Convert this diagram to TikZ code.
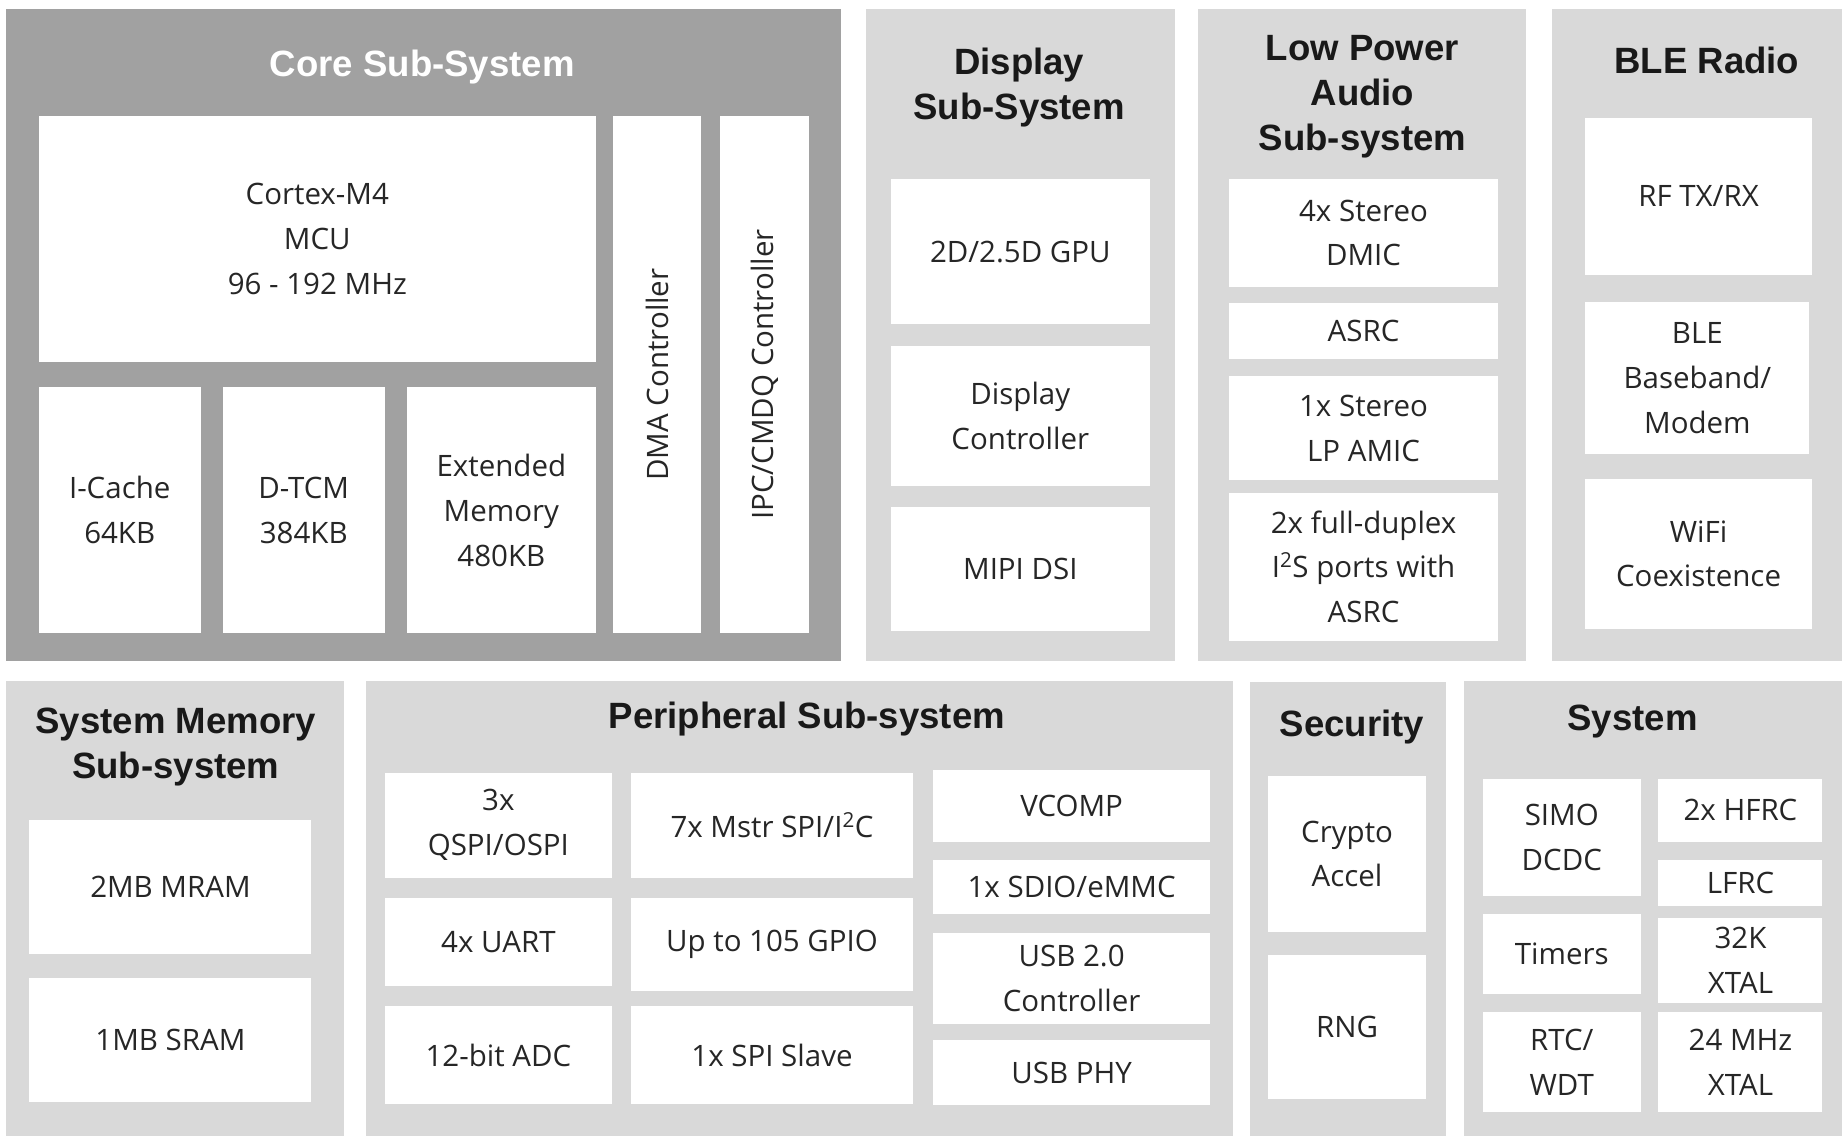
\documentclass[tikz,border=0pt]{standalone}
\usepackage{fontspec}
\setmainfont{Open Sans}
\newfontfamily\ttlfont{Liberation Sans}
\begin{document}
\begin{tikzpicture}[x=1pt,y=-1pt,
 txt/.style={align=center,font=\fontsize{25}{38}\selectfont,text=black!85},
 ttl/.style={align=center,font=\ttlfont\fontsize{31}{38}\selectfont\bfseries,text=black!90}]
\newcommand\pnl[5]{\node[fill=#5,draw=none,inner sep=0,minimum width={(#3-#1)*1pt},minimum height={(#4-#2)*1pt}] at ({(#1+#3)/2},{(#2+#4)/2}) {};}
\newcommand\bx[6]{\node[fill=white,inner sep=0,minimum width={(#3-#1)*1pt},minimum height={(#4-#2)*1pt}] (#5) at ({(#1+#3)/2},{(#2+#4)/2}) {};\node[txt] at (#5) {#6};}
\useasboundingbox (0,0) rectangle (1565,971);
\fill[white] (0,0) rectangle (1565,971);
% panels
\pnl{5}{8}{713}{560}{black!37}
\pnl{734}{8}{996}{560}{black!15}
\pnl{1016}{8}{1294}{560}{black!15}
\pnl{1316}{8}{1562}{560}{black!15}
\pnl{5}{577}{292}{963}{black!15}
\pnl{310}{577}{1045}{963}{black!15}
\pnl{1060}{578}{1226}{963}{black!15}
\pnl{1241}{577}{1562}{963}{black!15}
% titles
\node[ttl,text=white] (t1) at (358,57) {Core Sub-System};
\node[ttl] (t2) at (864,74) {Display\\Sub-System};
\node[ttl] (t3) at (1155,82) {Low Power\\Audio\\Sub-system};
\node[ttl] (t4) at (1447,51) {BLE Radio};
\node[ttl] (t5) at (149,633) {System Memory\\Sub-system};
\node[ttl] (t6) at (684,610) {Peripheral Sub-system};
\node[ttl] (t7) at (1146,616) {Security};
\node[ttl] (t8) at (1384,612) {System};
% core
\bx{33}{98}{505}{307}{cm}{Cortex-M4\\MCU\\96 - 192 MHz}
\bx{33}{328}{170}{537}{ic}{I-Cache\\64KB}
\bx{189}{328}{326}{537}{dt}{D-TCM\\384KB}
\bx{345}{328}{505}{537}{em}{Extended\\Memory\\480KB}
\bx{520}{98}{594}{537}{dma}{}
\node[txt,rotate=90] at (dma) {DMA Controller};
\bx{610}{98}{686}{537}{ipc}{}
\node[txt,rotate=90] at (ipc) {IPC/CMDQ Controller};
% display
\bx{755}{152}{975}{275}{gpu}{2D/2.5D GPU}
\bx{755}{293}{975}{412}{dc}{Display\\Controller}
\bx{755}{430}{975}{535}{dsi}{MIPI DSI}
% audio
\bx{1042}{152}{1270}{243}{a1}{4x Stereo\\DMIC}
\bx{1042}{257}{1270}{304}{a2}{ASRC}
\bx{1042}{319}{1270}{407}{a3}{1x Stereo\\LP AMIC}
\bx{1042}{418}{1270}{543}{a4}{2x full-duplex\\I\textsuperscript{2}S ports with\\ASRC}
% BLE
\bx{1344}{100}{1536}{233}{b1}{RF TX/RX}
\bx{1344}{256}{1534}{385}{b2}{BLE\\Baseband/\\Modem}
\bx{1344}{406}{1536}{533}{b3}{WiFi\\Coexistence}
% memory
\bx{25}{695}{264}{809}{m1}{2MB MRAM}
\bx{25}{829}{264}{934}{m2}{1MB SRAM}
% peripheral
\bx{326}{655}{519}{744}{p1}{3x\\QSPI/OSPI}
\bx{326}{761}{519}{836}{p2}{4x UART}
\bx{326}{853}{519}{936}{p3}{12-bit ADC}
\bx{535}{655}{774}{744}{p4}{7x Mstr SPI/I\textsuperscript{2}C}
\bx{535}{761}{774}{840}{p5}{Up to 105 GPIO}
\bx{535}{853}{774}{936}{p6}{1x SPI Slave}
\bx{791}{653}{1026}{714}{p7}{VCOMP}
\bx{791}{729}{1026}{775}{p8}{1x SDIO/eMMC}
\bx{791}{791}{1026}{868}{p9}{USB 2.0\\Controller}
\bx{791}{882}{1026}{937}{p10}{USB PHY}
% security
\bx{1075}{658}{1209}{790}{s1}{Crypto\\Accel}
\bx{1075}{810}{1209}{932}{s2}{RNG}
% system
\bx{1257}{660}{1391}{760}{y1}{SIMO\\DCDC}
\bx{1406}{660}{1545}{714}{y2}{2x HFRC}
\bx{1406}{729}{1545}{768}{y3}{LFRC}
\bx{1257}{775}{1391}{843}{y4}{Timers}
\bx{1406}{778}{1545}{850}{y5}{32K\\XTAL}
\bx{1257}{858}{1391}{943}{y6}{RTC/\\WDT}
\bx{1406}{858}{1545}{943}{y7}{24 MHz\\XTAL}
\end{tikzpicture}
\end{document}
